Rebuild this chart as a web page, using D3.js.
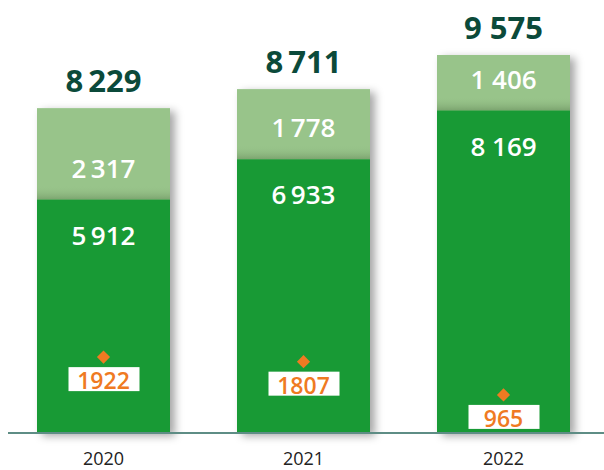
<!DOCTYPE html>
<html>
<head>
<meta charset="utf-8">
<script src="https://cdn.jsdelivr.net/npm/d3@7"></script>
<style>
  body { margin: 0; background: #fff; }
  svg { display: block; font-family: "Open Sans", sans-serif; }
</style>
</head>
<body>
<div id="chart"></div>
<script>
// data
var years = ["2020", "2021", "2022"];
var base = [5912, 6933, 8169];
var extra = [2317, 1778, 1406];
var totals = [8229, 8711, 9575];
var markers = [1922, 1807, 965];
var baseLabels = ["5\u2009912", "6\u2009933", "8 169"];
var extraLabels = ["2\u2009317", "1\u2009778", "1 406"];
var totalLabels = ["8\u2009229", "8\u2009711", "9 575"];
var markerLabels = ["1922", "1807", "965"];

var width = 604, height = 470;

var svg = d3.select("#chart").append("svg")
    .attr("width", width)
    .attr("height", height);

var defs = svg.append("defs");
var f = defs.append("filter").attr("id", "shadow")
    .attr("x", "-20%").attr("y", "-20%").attr("width", "150%").attr("height", "140%");
f.append("feDropShadow")
    .attr("dx", 5).attr("dy", 3)
    .attr("stdDeviation", 4)
    .attr("flood-color", "#000")
    .attr("flood-opacity", 0.35);

var grad = defs.append("linearGradient").attr("id", "splitShade")
    .attr("x1", 0).attr("y1", 0).attr("x2", 0).attr("y2", 1);
grad.append("stop").attr("offset", "0%").attr("stop-color", "#98c48a").attr("stop-opacity", 0);
grad.append("stop").attr("offset", "100%").attr("stop-color", "#6f9563").attr("stop-opacity", 1);

var x = d3.scaleBand()
    .domain(years)
    .range([3.5, 603.5])
    .paddingInner(0.335)
    .paddingOuter(0.1675);

var y = d3.scaleLinear()
    .domain([0, 9575])
    .range([433, 55]);

var rows = years.map(function(d, i) {
  return {year: d, base: base[i], extra: extra[i], total: totals[i], marker: markers[i],
          bl: baseLabels[i], el: extraLabels[i], tl: totalLabels[i], ml: markerLabels[i]};
});

var g = svg.append("g");

var bars = g.selectAll(".bar")
    .data(rows)
    .enter().append("g")
    .attr("class", "bar");

// whole column with a shadow
bars.append("rect")
    .attr("x", function(d) { return x(d.year); })
    .attr("y", function(d) { return y(d.base + d.extra); })
    .attr("width", x.bandwidth())
    .attr("height", function(d) { return y(0) - y(d.base + d.extra); })
    .style("fill", "#98c48a")
    .style("filter", "url(#shadow)");

// shade above the split
bars.append("rect")
    .attr("x", function(d) { return x(d.year); })
    .attr("y", function(d) { return y(d.base) - 14; })
    .attr("width", x.bandwidth())
    .attr("height", 14)
    .style("fill", "url(#splitShade)")
    .style("opacity", 0.7);

bars.append("rect")
    .attr("x", function(d) { return x(d.year); })
    .attr("y", function(d) { return y(d.base); })
    .attr("width", x.bandwidth())
    .attr("height", function(d) { return y(0) - y(d.base); })
    .style("fill", "#189a35");

// axis line
svg.append("line")
    .attr("x1", 8).attr("x2", width)
    .attr("y1", y(0)).attr("y2", y(0))
    .style("stroke", "#5e8d85")
    .style("stroke-width", 2);

var cx = function(d) { return x(d.year) + x.bandwidth() / 2; };

bars.append("text")
    .attr("x", cx)
    .attr("y", function(d) { return y(d.total) - 16; })
    .attr("text-anchor", "middle")
    .style("font-size", "31px")
    .style("font-weight", "bold")
    .style("fill", "#0b4a3a")
    .text(function(d) { return d.tl; });

bars.append("text")
    .attr("x", cx)
    .attr("y", function(d) { return y(d.base) - 22; })
    .attr("text-anchor", "middle")
    .style("font-size", "26px")
    .style("font-weight", 600)
    .style("fill", "#fff")
    .text(function(d) { return d.el; });

bars.append("text")
    .attr("x", cx)
    .attr("y", function(d) { return y(d.base) + 45; })
    .attr("text-anchor", "middle")
    .style("font-size", "26px")
    .style("font-weight", 600)
    .style("fill", "#fff")
    .text(function(d) { return d.bl; });

// orange markers
bars.append("path")
    .attr("d", d3.symbol().type(d3.symbolDiamond2).size(110))
    .attr("transform", function(d) { return "translate(" + cx(d) + "," + y(d.marker) + ")"; })
    .style("fill", "#ef7a22");

bars.append("rect")
    .attr("x", function(d) { return cx(d) - 35; })
    .attr("y", function(d) { return y(d.marker) + 10; })
    .attr("width", 71)
    .attr("height", 24)
    .style("fill", "#fff");

bars.append("text")
    .attr("x", cx)
    .attr("y", function(d) { return y(d.marker) + 32; })
    .attr("text-anchor", "middle")
    .style("font-size", "23px")
    .style("font-weight", 600)
    .style("fill", "#ef7a22")
    .text(function(d) { return d.ml; });

// year labels
svg.selectAll(".year")
    .data(rows)
    .enter().append("text")
    .attr("class", "year")
    .attr("x", cx)
    .attr("y", 465)
    .attr("text-anchor", "middle")
    .style("font-size", "18px")
    .style("fill", "#222")
    .text(function(d) { return d.year; });
</script>
</body>
</html>
